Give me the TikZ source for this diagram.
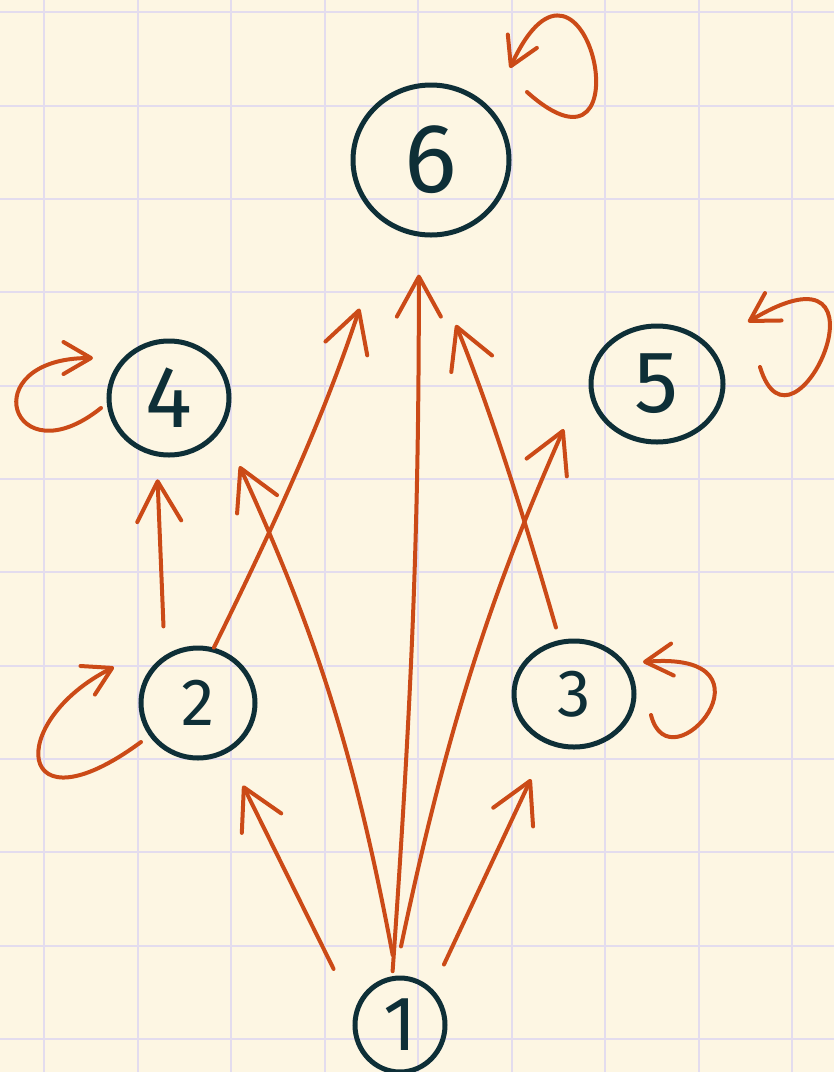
\documentclass[tikz,border=0pt]{standalone}
\usepackage{fontspec}
\setmainfont{Fira Sans}
\usetikzlibrary{arrows.meta,shapes.geometric}
\definecolor{paper}{HTML}{FDF6E3}
\definecolor{gridline}{HTML}{E3DCEE}
\definecolor{ink}{HTML}{0E2F37}
\definecolor{accent}{HTML}{CB4A17}

\begin{document}
\begin{tikzpicture}[x=0.2mm,y=-0.2mm,
  vertex/.style={ellipse,draw=ink,line width=1mm,inner sep=0pt,text=ink,
    font=\fontsize{#1}{#1}\selectfont},
  vertex/.default=44,
  arrow/.style={draw=accent,line width=.8mm,line cap=round,
    -{Straight Barb[length=8mm,width=8.8mm,round]}},
  selfloop/.style={arrow,-{Straight Barb[length=5.5mm,width=6.4mm,round]}}
]
\useasboundingbox (0,0) rectangle (834,1072);
\fill[paper] (0,0) rectangle (834,1072);
% squared paper
\foreach \i in {0,...,8}
  \draw[draw=gridline,line width=.4mm] (44.3+93.5*\i,0) -- (44.3+93.5*\i,1072);
\foreach \j in {0,...,11}
  \draw[draw=gridline,line width=.4mm] (0,12.3+93.35*\j) -- (834,12.3+93.35*\j);

\node[vertex=56,minimum width=31.2mm,minimum height=30mm] (v6) at (431,160) {6};
\node[vertex=50,minimum width=24mm,minimum height=22.8mm] (v4) at (169,398) {4};
\node[vertex=50,minimum width=26.4mm,minimum height=23.2mm] (v5) at (657,384) {5};
\node[vertex=38,minimum width=22.8mm,minimum height=22mm] (v2) at (198,703) {2};
\node[vertex=38,minimum width=24mm,minimum height=21.2mm] (v3) at (574,694) {3};
\node[vertex,minimum width=18mm,minimum height=18.8mm] (v1) at (400,1025) {1};

% edges
\draw[arrow,shorten <=9.4mm,shorten >=7.2mm] (v1.163) -- (v2.-60);
\draw[arrow,shorten <=5.4mm,shorten >=7.7mm] (v1.48) -- (v3.-118);
\draw[arrow,shorten <=5.8mm,shorten >=4.6mm] (v2.125) -- (v4.-102);
\draw[arrow,shorten >=17.6mm] (v2.74) to[bend right=4] (v6.-124);
\draw[arrow,shorten <=2.6mm,shorten >=19mm] (v3.105) to[bend right=3] (v6.-98);
\draw[arrow,shorten <=1mm,shorten >=7.6mm] (v1.99) to[out=86,in=-90] (v6.-99);
\draw[arrow,shorten <=4.2mm,shorten >=8.2mm] (v1.94) to[bend right=7] (v4.-30);
\draw[arrow,shorten <=6mm,shorten >=13.7mm] (v1.96) to[bend left=6] (v5.165);

% self loops
\draw[selfloop] ([shift={(96,-68)}]v6.center) .. controls +(123,110) and +(76,-165) .. ([shift={(79,-92)}]v6.center);
\draw[selfloop] ([shift={(103,-17)}]v5.center) .. controls +(33,109) and +(156,-94) .. ([shift={(91,-62)}]v5.center);
\draw[selfloop] ([shift={(-68,10)}]v4.center) .. controls +(-90,72) and +(-121,0) .. ([shift={(-76,-40)}]v4.center);
\draw[selfloop] ([shift={(-57,39)}]v2.center) .. controls +(-126,93) and +(-109,55) .. ([shift={(-84,-36)}]v2.center);
\draw[selfloop] ([shift={(77,21)}]v3.center) .. controls +(19,75) and +(144,-12) .. ([shift={(69,-32)}]v3.center);
\end{tikzpicture}
\end{document}
